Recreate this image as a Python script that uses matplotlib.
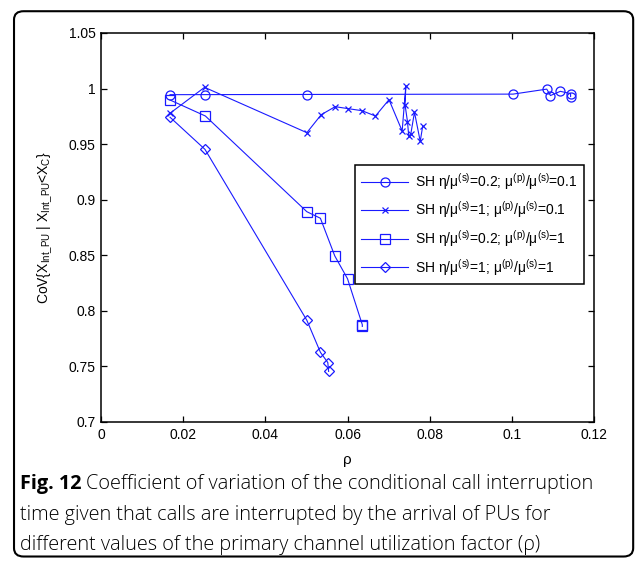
"""Fig. 12: CoV of conditional call interruption time vs rho."""

import matplotlib

matplotlib.use("Agg")
import matplotlib.pyplot as plt
from matplotlib.patches import FancyBboxPatch
from matplotlib.ticker import FuncFormatter

plt.rcParams["font.family"] = ["Liberation Sans", "DejaVu Sans"]
plt.rcParams["mathtext.fontset"] = "custom"
plt.rcParams["mathtext.rm"] = "Liberation Sans"
plt.rcParams["mathtext.it"] = "Liberation Sans"

# series: eta/mu_s = 0.2, mu_p/mu_s = 0.1 (circles)
rho_c = [0.0168, 0.1003, 0.1085, 0.1094, 0.1118, 0.1143, 0.1143]
cov_c = [0.9945, 0.9950, 0.9995, 0.9937, 0.9975, 0.9955, 0.9928]
rho_c_extra = [0.0253, 0.0502]
cov_c_extra = [0.9945, 0.9938]

# eta/mu_s = 1, mu_p/mu_s = 0.1 (crosses)
rho_x = [0.0168, 0.0252, 0.0501, 0.0536, 0.0570, 0.0602, 0.0635, 0.0668,
         0.0701, 0.0733, 0.0742, 0.0740, 0.0746, 0.0749, 0.0754, 0.0763,
         0.0777, 0.0783]
cov_x = [0.9778, 1.0011, 0.9603, 0.9765, 0.9837, 0.9819, 0.9801, 0.9753,
         0.9900, 0.9618, 1.0025, 0.9855, 0.9702, 0.9573, 0.9590, 0.9787,
         0.9525, 0.9662]

# eta/mu_s = 0.2, mu_p/mu_s = 1 (squares)
rho_s = [0.0168, 0.0254, 0.0501, 0.0534, 0.0569, 0.0600, 0.0636, 0.0636]
cov_s = [0.9897, 0.9753, 0.8892, 0.8833, 0.8494, 0.8289, 0.7875, 0.7860]

# eta/mu_s = 1, mu_p/mu_s = 1 (diamonds)
rho_d = [0.0168, 0.0253, 0.0501, 0.0534, 0.0552, 0.0554]
cov_d = [0.9742, 0.9453, 0.7915, 0.7627, 0.7535, 0.7455]

labels = [
    r"SH η/μ$^{(s)}$=0.2; μ$^{(p)}$/μ$^{(s)}$=0.1",
    r"SH η/μ$^{(s)}$=1; μ$^{(p)}$/μ$^{(s)}$=0.1",
    r"SH η/μ$^{(s)}$=0.2; μ$^{(p)}$/μ$^{(s)}$=1",
    r"SH η/μ$^{(s)}$=1; μ$^{(p)}$/μ$^{(s)}$=1",
]

BLUE = "#1a1aff"

fig = plt.figure(figsize=(6.37, 5.61), dpi=100)
ax = fig.add_axes([0.1586, 0.2478, 0.9325 - 0.1586, 0.9412 - 0.2478])

style = dict(color=BLUE, lw=0.8, mfc="none", mew=0.9)
ax.plot(rho_c, cov_c, marker="o", ms=6.5, label=labels[0], **style)
ax.plot(rho_c_extra, cov_c_extra, ls="none", marker="o", ms=6.5,
        color=BLUE, mfc="none", mew=0.9)
ax.plot(rho_x, cov_x, marker="x", ms=4, label=labels[1], **style)
ax.plot(rho_s, cov_s, marker="s", ms=6.5, label=labels[2], **style)
ax.plot(rho_d, cov_d, marker="D", ms=5.5, label=labels[3], **style)

ax.set_xlim(0, 0.12)
ax.set_ylim(0.7, 1.05)
ax.set_xticks([0, 0.02, 0.04, 0.06, 0.08, 0.1, 0.12])
ax.set_yticks([0.7, 0.75, 0.8, 0.85, 0.9, 0.95, 1.0, 1.05])
ax.xaxis.set_major_formatter(FuncFormatter(lambda v, p: f"{v:g}"))
ax.yaxis.set_major_formatter(FuncFormatter(lambda v, p: f"{v:g}"))
ax.tick_params(direction="in", top=True, right=True, length=4,
               labelsize=10, width=0.9, pad=4)
for sp in ax.spines.values():
    sp.set_linewidth(1.1)

ax.set_xlabel("ρ", fontsize=11, labelpad=8)
ax.set_ylabel(r"CoV{X$_{\rm Int\_PU}$ | X$_{\rm Int\_PU}$<X$_{\rm C}$}",
              fontsize=10, labelpad=10)

leg = ax.legend(loc="upper right", bbox_to_anchor=(0.994, 0.679),
                fontsize=10, handlelength=3.4, labelspacing=0.55,
                borderpad=0.45, handletextpad=0.5, fancybox=False,
                framealpha=1, edgecolor="black")
leg.get_frame().set_linewidth(1.1)

# outer rounded frame
frame = FancyBboxPatch((0.022, 0.008), 0.972, 0.972,
                       boxstyle="round,pad=0,rounding_size=0.015",
                       transform=fig.transFigure, fill=False,
                       edgecolor="black", lw=1.5)
fig.patches.append(frame)

# caption
cap_font = ["Open Sans", "DejaVu Sans"]
cap_size = 14.3
t0 = fig.text(0.031, 1 - 489 / 561, "Fig. 12", fontsize=cap_size,
              weight="bold", family=cap_font)
fig.canvas.draw()
bb = t0.get_window_extent(fig.canvas.get_renderer())
x1 = (bb.x1 + 5) / fig.bbox.width
fig.text(x1, 1 - 489 / 561,
         "Coefficient of variation of the conditional call interruption",
         fontsize=cap_size, family=cap_font, weight="light")
fig.text(0.031, 1 - 520 / 561,
         "time given that calls are interrupted by the arrival of PUs for",
         fontsize=cap_size, family=cap_font, weight="light")
fig.text(0.031, 1 - 550 / 561,
         "different values of the primary channel utilization factor (ρ)",
         fontsize=cap_size, family=cap_font, weight="light")

fig.savefig("out.png", dpi=100)
